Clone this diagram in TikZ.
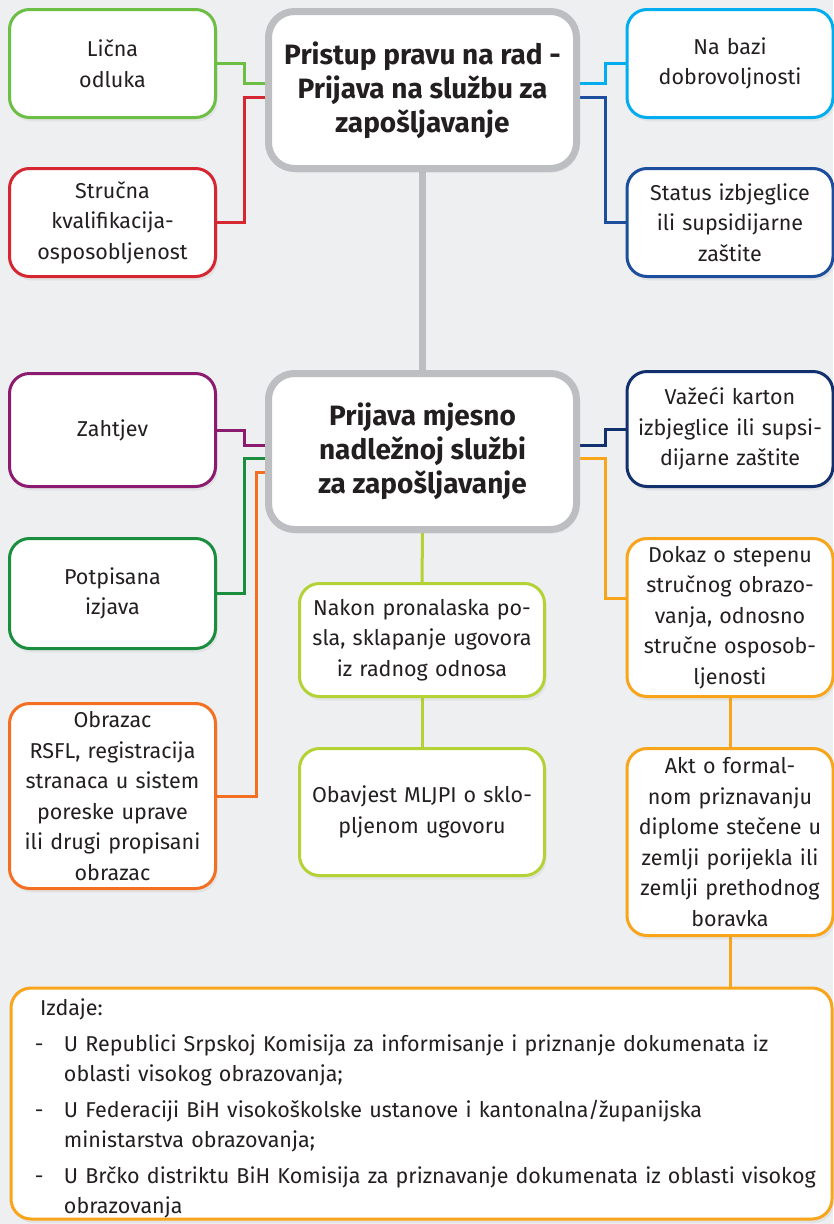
\documentclass[tikz,border=0pt]{standalone}
\usepackage{fontspec}
\setmainfont{Fira Sans}
\usetikzlibrary{shadows,backgrounds}
\definecolor{pozadina}{HTML}{EEEFF1}
\definecolor{tekst}{HTML}{231F20}
\definecolor{siva}{HTML}{BDBEC2}
\definecolor{zelena}{HTML}{6CBE45}
\definecolor{crvena}{HTML}{D62631}
\definecolor{plava}{HTML}{00AEEF}
\definecolor{tplava}{HTML}{1C4E9D}
\definecolor{ljubicasta}{HTML}{8C1A6F}
\definecolor{tzelena}{HTML}{1A8E3E}
\definecolor{narandzasta}{HTML}{F36F21}
\definecolor{limeta}{HTML}{B2D235}
\definecolor{mornarska}{HTML}{12306E}
\definecolor{zuta}{HTML}{F8A51B}
\tikzset{
kutija/.style={draw=#1, line width=3pt, rounded corners=20pt, fill=white, text=tekst, align=center, inner xsep=2pt, inner ysep=0pt, text width=202pt, font=\fontsize{21.5}{30.5}\selectfont, drop shadow={opacity=0.1, shadow xshift=2pt, shadow yshift=-4pt}},
glavna/.style={draw=siva, line width=7pt, rounded corners=26pt, fill=white, text=tekst, align=center, inner sep=0pt, minimum width=308pt, minimum height=157pt, font=\fontsize{28}{34}\selectfont\bfseries, drop shadow={opacity=0.1, shadow xshift=2pt, shadow yshift=-4pt}},
veza/.style={draw=#1, line width=3pt}
}
\begin{document}
\begin{tikzpicture}[x=1pt, y=-1pt]
\useasboundingbox (0,0) rectangle (833,1224);
\node (vrh) [glavna] at (422.5,90) {Pristup pravu na rad -\\Prijava na službu za\\zapošljavanje};
\node (prijava) [glavna, minimum height=156pt] at (422.5,451.5) {Prijava mjesno\\nadležnoj službi\\za zapošljavanje};
\node (licna) [kutija=zelena, minimum height=108pt] at (112.5,63.5) {Lična\\odluka};
\node (strucna) [kutija=crvena, minimum height=108pt] at (112.5,222.5) {Stručna\\kvalifikacija-\\osposobljenost};
\node (nabazi) [kutija=plava, minimum height=108pt] at (730,63.5) {Na bazi\\dobrovoljnosti};
\node (status) [kutija=tplava, minimum height=108pt] at (730,222.5) {Status izbjeglice\\ili supsidijarne\\zaštite};
\node (zahtjev) [kutija=ljubicasta, minimum height=113pt] at (112.5,430) {Zahtjev};
\node (potpis) [kutija=tzelena, minimum height=110pt] at (112.5,593.5) {Potpisana\\izjava};
\node (obrazac) [kutija=narandzasta, minimum height=185pt] at (112.5,796) {Obrazac\\RSFL, registracija\\stranaca u sistem\\poreske uprave\\ili drugi propisani\\obrazac};
\node (vazeci) [kutija=mornarska, minimum height=115pt] at (730,429) {Važeći karton\\izbjeglice ili supsi-\\dijarne zaštite};
\node (dokaz) [kutija=zuta, minimum height=158pt] at (730,617.5) {Dokaz o stepenu\\stručnog obrazo-\\vanja, odnosno\\stručne osposob-\\ljenosti};
\node (akt) [kutija=zuta, minimum height=187pt] at (730,842) {Akt o formal-\\nom priznavanju\\diplome stečene u\\zemlji porijekla ili\\zemlji prethodnog\\boravka};
\node (nakon) [kutija=limeta, text width=241pt, minimum height=113pt] at (422,640) {Nakon pronalaska po-\\sla, sklapanje ugovora\\iz radnog odnosa};
\node (obavjest) [kutija=limeta, text width=241pt, minimum height=127pt] at (422,812) {Obavjest MLJPI o sklo-\\pljenom ugovoru};
\node (izdaje) [kutija=zuta, anchor=north west, text width=821pt, inner sep=0pt, minimum height=231pt, align=left] at (9.5,986.5) {\hspace*{24pt}\parbox[c][209pt][t]{795pt}{\raggedright
\hspace*{5pt}Izdaje:\\[5pt]
\makebox[29pt][l]{-}U Republici Srpskoj Komisija za informisanje i priznanje dokumenata iz\\
\hspace*{29pt}oblasti visokog obrazovanja;\\[5pt]
\makebox[29pt][l]{-}U Federaciji BiH visokoškolske ustanove i kantonalna/županijska\\
\hspace*{29pt}ministarstva obrazovanja;\\[5pt]
\makebox[29pt][l]{-}U Brčko distriktu BiH Komisija za priznavanje dokumenata iz oblasti visokog\\
\hspace*{29pt}obrazovanja}};
\begin{scope}[on background layer]
\fill[pozadina] (0,0) rectangle (833,1224);
\draw[veza=siva, line width=7pt] (vrh.south) -- (prijava.north);
\draw[veza=zelena] (licna.east) -- ++(27,0) |- ([yshift=7pt]vrh.west);
\draw[veza=crvena] (strucna.east) -- ++(27,0) |- ([yshift=-7pt]vrh.west);
\draw[veza=plava] ([yshift=7pt]vrh.east) -- ++(25,0) |- (nabazi.west);
\draw[veza=tplava] ([yshift=-7pt]vrh.east) -- ++(25,0) |- (status.west);
\draw[veza=ljubicasta] (zahtjev.east) -- ++(27,0) |- ([yshift=6.5pt]prijava.west);
\draw[veza=tzelena] (potpis.east) -- ++(27,0) |- ([yshift=-6.5pt]prijava.west);
\draw[veza=narandzasta] (obrazac.east) -- ++(39,0) |- ([yshift=-20.5pt]prijava.west);
\draw[veza=mornarska] ([yshift=6.5pt]prijava.east) -- ++(25,0) |- (vazeci.west);
\draw[veza=zuta] ([yshift=-6.5pt]prijava.east) -- ++(25,0) |- ([yshift=19pt]dokaz.west);
\draw[veza=limeta] (prijava.south) -- (nakon.north);
\draw[veza=limeta] (nakon) -- (obavjest);
\draw[veza=zuta] (dokaz) -- (akt);
\draw[veza=zuta] (akt.south) -- (akt.south |- izdaje.north);
\end{scope}
\end{tikzpicture}
\end{document}
